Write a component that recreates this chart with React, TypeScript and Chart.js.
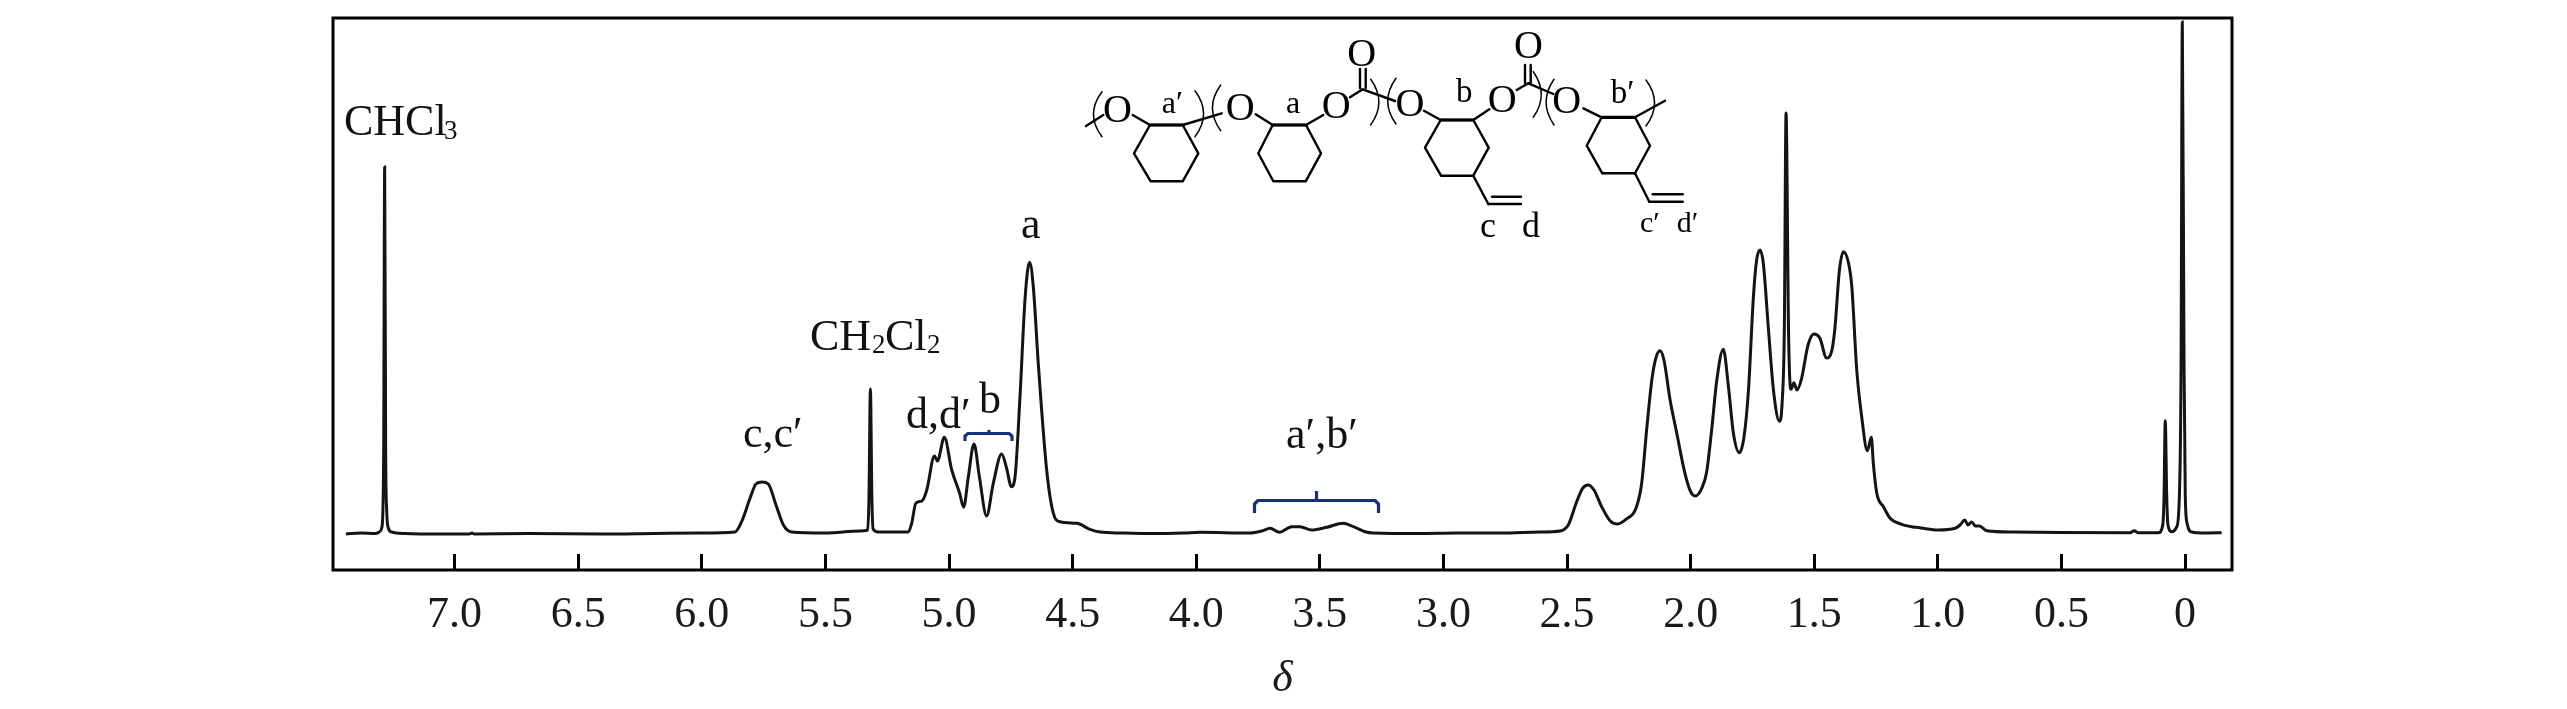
import React, { useEffect, useRef } from "react";
import { Chart, registerables } from "chart.js";

Chart.register(...registerables);

const tickValues = [7, 6.5, 6, 5.5, 5, 4.5, 4, 3.5, 3, 2.5, 2, 1.5, 1, 0.5, 0];
const axisTitle = "δ";

// chemical shift (ppm) / intensity, region by region
const solventPpm = [7.44, 7.38, 7.32, 7.305, 7.295, 7.29, 7.287, 7.283, 7.279, 7.275, 7.268, 7.255, 7.2, 7.05, 6.94, 6.93, 6.92, 6.7, 6.4, 6.2];
const solventInt = [35, 36, 35.5, 37, 41, 60, 120, 402, 120, 60, 41, 37, 35.5, 35, 35, 36, 35, 35.5, 35, 35.5];

const vinylPpm = [6.007, 5.866, 5.839, 5.805, 5.781, 5.756, 5.731, 5.7, 5.67, 5.637, 5.5, 5.36, 5.329, 5.324, 5.318, 5.312, 5.307, 5.286, 5.165, 5.151, 5.134, 5.11, 5.09, 5.059, 5.047, 5.019, 4.989, 4.957, 4.941, 4.922, 4.899, 4.877, 4.848, 4.821, 4.787, 4.767, 4.748, 4.733, 4.713, 4.692, 4.674, 4.659, 4.639, 4.605, 4.578, 4.551, 4.483, 4.43, 4.389, 4.3, 4.2, 4.05];
const vinylInt = [36, 37, 47.3, 70.7, 85, 87, 85, 64, 44, 37, 36, 38, 39, 70, 180, 70, 40, 37, 37, 45.7, 66, 68, 79, 113, 108, 131.7, 99, 75.7, 61.7, 92, 125, 92, 53, 85.7, 115, 100.7, 82.3, 92, 172, 272, 306.7, 282, 205.7, 99, 55.7, 47.3, 45.7, 39.7, 37, 36, 35.5, 36];

const midPpm = [3.985, 3.782, 3.735, 3.701, 3.664, 3.614, 3.58, 3.533, 3.472, 3.405, 3.364, 3.317, 3.284, 3.1, 2.95, 2.771];
const midInt = [36.7, 36, 38, 40.7, 36.7, 42.3, 42.3, 39, 41.7, 45.7, 42.3, 37.3, 36, 35.5, 36, 36];

const aliphaticPpm = [2.609, 2.528, 2.495, 2.461, 2.437, 2.415, 2.391, 2.36, 2.326, 2.296, 2.258, 2.221, 2.198, 2.178, 2.157, 2.141, 2.124, 2.108, 2.083, 2.056, 2.023, 2.0, 1.982, 1.955, 1.935, 1.915, 1.894, 1.868, 1.847, 1.827, 1.803, 1.784, 1.766, 1.746, 1.733, 1.719, 1.706, 1.685, 1.665, 1.641, 1.63, 1.621, 1.614, 1.604, 1.597, 1.594, 1.582, 1.57, 1.551, 1.525, 1.501, 1.477, 1.45, 1.43, 1.417, 1.398, 1.382, 1.361, 1.348, 1.328, 1.308, 1.285, 1.269, 1.261, 1.247, 1.22, 1.193, 1.146, 1.059, 0.998];
const aliphaticInt = [37, 38, 44, 67.3, 80.7, 84, 79, 62.3, 48.3, 45, 50.3, 60.7, 85.7, 139, 189, 210.7, 218.3, 209, 169, 135.7, 95.7, 77.3, 73, 80.7, 97.3, 139, 189, 219.7, 182.3, 135.7, 116.3, 132.3, 179, 272.3, 309, 319, 305.7, 239, 179, 147.7, 165.7, 239, 456, 239, 182.3, 179.7, 186.3, 179, 190.7, 224, 235, 230.7, 211, 217.3, 239, 299, 317.3, 305.7, 282.3, 199, 152.3, 118.3, 131.7, 105.7, 75.7, 62.3, 50.7, 44.7, 40.7, 39];

const referencePpm = [0.93, 0.91, 0.891, 0.878, 0.863, 0.848, 0.832, 0.802, 0.694, 0.5, 0.222, 0.206, 0.189, 0.108, 0.09, 0.085, 0.08, 0.074, 0.069, 0.054, 0.034, 0.023, 0.016, 0.011, 0.004, -0.001, -0.009, -0.027, -0.08, -0.148];
const referenceInt = [40.7, 44, 49, 44, 47, 43, 43, 38.3, 37, 36.5, 36.3, 38.3, 36.3, 36.3, 44, 72, 148.3, 72, 44, 37.3, 42, 72, 205, 547, 205, 72, 45, 37, 36, 36.3];

const deltaPpm = [...solventPpm, ...vinylPpm, ...midPpm, ...aliphaticPpm, ...referencePpm];
const intensity = [...solventInt, ...vinylInt, ...midInt, ...aliphaticInt, ...referenceInt];

const SERIF = "'Liberation Serif'";
const INK = "#141414";
const BLUE = "#14317a";

function text(ctx: CanvasRenderingContext2D, s: string, x: number, y: number, size: number) {
  ctx.font = `${size}px ${SERIF}`;
  ctx.fillText(s, x, y);
}

function poly(ctx: CanvasRenderingContext2D, pts: number[], lw = 2.4, closed = false) {
  ctx.lineWidth = lw;
  ctx.beginPath();
  ctx.moveTo(pts[0], pts[1]);
  for (let i = 2; i < pts.length; i += 2) ctx.lineTo(pts[i], pts[i + 1]);
  if (closed) ctx.closePath();
  ctx.stroke();
}

function paren(ctx: CanvasRenderingContext2D, x0: number, x1: number, y0: number, y1: number, open: boolean) {
  ctx.lineWidth = 1.5;
  ctx.beginPath();
  const tip = open ? x1 : x0;
  const belly = open ? x0 - (x1 - x0) * 0.9 : x1 + (x1 - x0) * 0.9;
  ctx.moveTo(tip, y0);
  ctx.quadraticCurveTo(belly, (y0 + y1) / 2, tip, y1);
  ctx.stroke();
}

function drawMolecule(ctx: CanvasRenderingContext2D) {
  ctx.strokeStyle = "#000";
  ctx.fillStyle = "#000";
  ctx.lineCap = "round";
  ctx.lineJoin = "round";
  const hexes = [
    [1150, 125, 1182.7, 125, 1198.3, 153.3, 1182.7, 181.3, 1150.7, 181.3, 1134, 153.3],
    [1272.7, 125, 1306, 125, 1321, 153.3, 1305.7, 181.3, 1273.3, 181.3, 1258.3, 153.3],
    [1440.7, 120, 1473.3, 120, 1488.7, 147.7, 1473.3, 175.7, 1441, 175.7, 1425, 147.7],
    [1601.7, 117.3, 1635, 117.3, 1650, 145.7, 1635, 173.3, 1602.3, 173.3, 1586.7, 145.7],
  ];
  hexes.forEach((h) => {
    poly(ctx, h, 2.4, true);
    poly(ctx, h.slice(0, 4), 3.2);
  });
  const bonds = [
    [1086, 126, 1103.3, 115],
    [1132.7, 115, 1150, 125],
    [1182.7, 125, 1221.7, 113.3],
    [1255.7, 114.3, 1272.7, 125],
    [1306, 125, 1323.3, 115],
    [1350, 97.3, 1362.7, 89.3],
    [1362.7, 89.3, 1395, 101],
    [1360, 88, 1360, 69],
    [1365.7, 88, 1365.7, 69],
    [1424, 110.7, 1440.7, 120],
    [1473.3, 120, 1489.3, 109.3],
    [1516.7, 90, 1528.3, 83.3],
    [1528.3, 83.3, 1553.3, 94],
    [1525, 83, 1525, 65],
    [1530.7, 83, 1530.7, 65],
    [1583.3, 108.3, 1601.7, 117.3],
    [1635, 117.3, 1665, 100.7],
    [1473.3, 175.7, 1488.3, 204],
    [1488.3, 204, 1521, 204],
    [1492, 196.7, 1521, 196.7],
    [1635, 173.3, 1649.3, 201.7],
    [1649.3, 201.7, 1682.7, 201.7],
    [1652.7, 194.3, 1682.7, 194.3],
  ];
  bonds.forEach((b) => poly(ctx, b, 2.4));
  paren(ctx, 1093, 1102, 91.7, 136.7, true);
  paren(ctx, 1195, 1204, 90.7, 136.7, false);
  paren(ctx, 1212, 1220.7, 85, 130.7, true);
  paren(ctx, 1370.7, 1379.3, 79.3, 125, false);
  paren(ctx, 1387.3, 1396, 78.3, 124, true);
  paren(ctx, 1533.3, 1541.7, 71.7, 117.3, false);
  paren(ctx, 1545.7, 1554, 79.3, 125, true);
  paren(ctx, 1646, 1655, 80, 126, false);

  const oxygens = [
    [1103, 121.7],
    [1225.7, 120],
    [1321.7, 117.7],
    [1347.3, 65.7],
    [1395.4, 116],
    [1487.7, 112.3],
    [1514, 57.7],
    [1552.3, 113.3],
  ];
  oxygens.forEach(([x, y]) => text(ctx, "O", x, y, 40));
  text(ctx, "a′", 1161.7, 113.3, 32);
  text(ctx, "a", 1286, 112.7, 32);
  text(ctx, "b", 1456, 102.3, 33);
  text(ctx, "b′", 1610.7, 103.3, 33);
  text(ctx, "c", 1480, 237.3, 36);
  text(ctx, "d", 1522, 237.3, 36);
  text(ctx, "c′", 1640, 231.7, 30);
  text(ctx, "d′", 1676.7, 231.7, 30);
}

function drawLabels(ctx: CanvasRenderingContext2D) {
  ctx.fillStyle = "#111";
  text(ctx, "CHCl", 344, 135, 44);
  text(ctx, "3", 444, 139, 27);
  text(ctx, "CH", 810, 350, 44);
  text(ctx, "2", 872, 353, 27);
  text(ctx, "Cl", 885, 350, 44);
  text(ctx, "2", 927, 353, 27);
  text(ctx, "c,c′", 743, 447, 44);
  text(ctx, "d,d′", 906, 428, 44);
  text(ctx, "b", 979, 413, 44);
  text(ctx, "a", 1021, 238, 44);
  text(ctx, "a′,b′", 1286, 448, 44);
  ctx.strokeStyle = BLUE;
  ctx.lineJoin = "round";
  ctx.lineCap = "butt";
  poly(ctx, [965, 441, 965, 436, 968, 433.5, 1009, 433.5, 1012, 436, 1012, 441], 3.2);
  poly(ctx, [989, 433, 989, 430], 3.2);
  poly(ctx, [1254.5, 513, 1254.5, 504, 1258, 500.5, 1375, 500.5, 1378.5, 504, 1378.5, 513], 3.2);
  poly(ctx, [1316.5, 500, 1316.5, 491], 3.2);
}

const annotations = {
  id: "annotations",
  afterDraw(chart: Chart) {
    const { ctx, chartArea: a } = chart;
    ctx.save();
    ctx.textAlign = "left";
    ctx.textBaseline = "alphabetic";
    ctx.strokeStyle = "#000";
    ctx.lineWidth = 3;
    ctx.strokeRect(a.left, a.top, a.right - a.left, a.bottom - a.top);
    drawLabels(ctx);
    drawMolecule(ctx);
    ctx.restore();
  },
};

export default function App() {
  const ref = useRef<HTMLCanvasElement>(null);
  useEffect(() => {
    const chart = new Chart(ref.current!, {
      type: "scatter",
      data: {
        datasets: [
          {
            data: deltaPpm.map((x, i) => ({ x, y: intensity[i] })),
            showLine: true,
            borderColor: INK,
            borderWidth: 3,
            pointRadius: 0,
            cubicInterpolationMode: "monotone",
            fill: false,
          },
        ],
      },
      options: {
        animation: false,
        responsive: false,
        events: [],
        layout: { padding: { left: 333, right: 335, top: 18, bottom: 0 } },
        plugins: { legend: { display: false }, tooltip: { enabled: false }, title: { display: false } },
        scales: {
          x: {
            type: "linear",
            reverse: true,
            min: -0.19,
            max: 7.492,
            afterBuildTicks: (s: any) => {
              s.ticks = tickValues.map((value) => ({ value }));
            },
            afterFit: (s: any) => {
              s.height = 139;
            },
            border: { display: false },
            grid: { drawOnChartArea: false, drawTicks: true, tickLength: -16, tickWidth: 3, tickColor: "#000" },
            ticks: {
              autoSkip: false,
              maxRotation: 0,
              padding: 35,
              color: "#1a1a1a",
              font: { family: SERIF, size: 44 },
              callback: (v: any) => (v === 0 ? "0" : Number(v).toFixed(1)),
            },
            title: {
              display: true,
              text: axisTitle,
              color: "#1a1a1a",
              font: { family: SERIF, size: 44, style: "italic" },
              padding: { top: 0, bottom: 3 },
            },
          },
          y: { display: false, min: -1, max: 551 },
        },
      },
      plugins: [annotations],
    } as any);
    return () => chart.destroy();
  }, []);
  return (
    <div style={{ position: "absolute", left: 0, top: 0, width: 2567, height: 709, background: "#fff" }}>
      <canvas ref={ref} width={2567} height={709} style={{ display: "block" }} />
    </div>
  );
}
